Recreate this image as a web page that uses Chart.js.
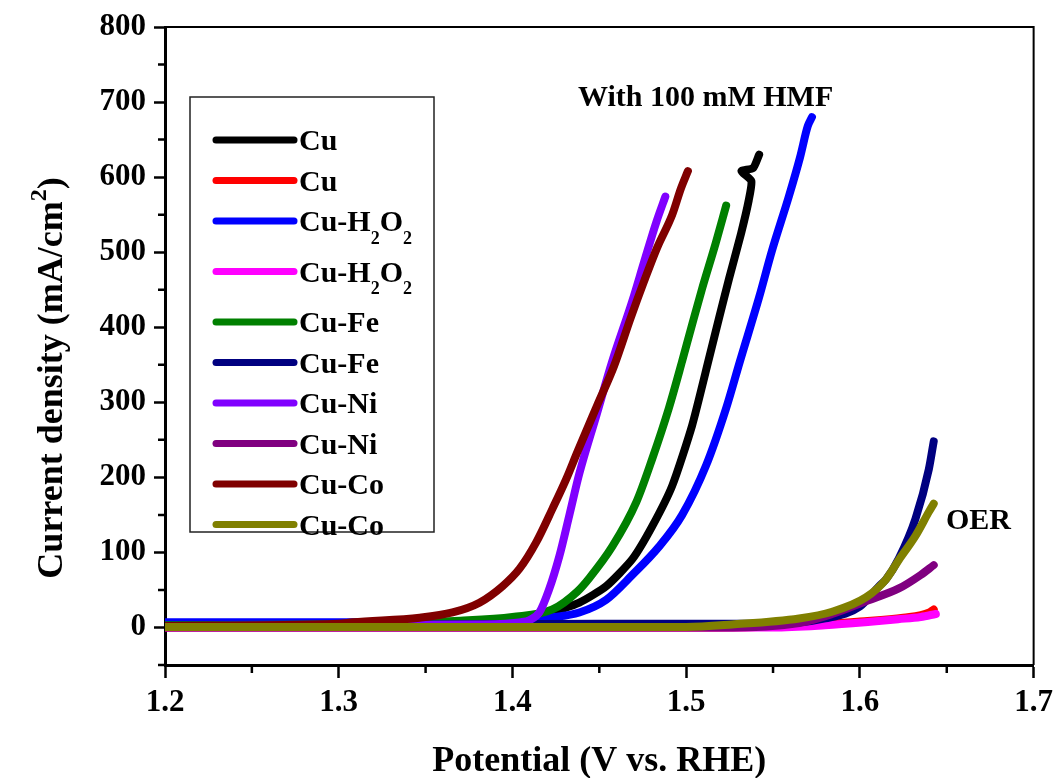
<!DOCTYPE html>
<html>
<head>
<meta charset="utf-8">
<script src="https://cdn.jsdelivr.net/npm/chart.js@4.4.0/dist/chart.umd.min.js"></script>
<style>
  html, body { margin: 0; padding: 0; background: #fff; }
  #wrap { width: 1059px; height: 778px; }
</style>
</head>
<body>
<div id="wrap"><canvas id="lsv"></canvas></div>
<script>
// series names and colours, in legend order
const seriesLabels = ['Cu', 'Cu', 'Cu-H2O2', 'Cu-H2O2', 'Cu-Fe', 'Cu-Fe', 'Cu-Ni', 'Cu-Ni', 'Cu-Co', 'Cu-Co'];
const seriesColors = ['#000000', '#ff0000', '#0000ff', '#ff00ff', '#008000', '#000080', '#8000ff', '#800080', '#800000', '#808000'];

// potential (V vs. RHE) / current density (mA/cm2) for each sweep
const cuHmfV  = [1.20, 1.30, 1.38, 1.41, 1.423, 1.4385, 1.454, 1.469, 1.4805, 1.492, 1.5034, 1.5132, 1.519, 1.5247, 1.5316, 1.536, 1.5375, 1.5318, 1.5385, 1.542];
const cuHmfJ  = [2, 3, 4, 8, 20, 33, 55, 91, 135, 189, 269, 359, 413, 465, 525, 569, 595, 608, 612, 630];
const cuV     = [1.20, 1.50, 1.56, 1.60, 1.625, 1.64, 1.6425];
const cuJ     = [0, 0, 2, 8, 13, 20, 24];
const cuH2o2HmfV = [1.20, 1.30, 1.40, 1.421, 1.4385, 1.454, 1.469, 1.4845, 1.4977, 1.5115, 1.523, 1.531, 1.542, 1.5494, 1.5592, 1.5655, 1.5700, 1.5724];
const cuH2o2HmfJ = [7, 7, 7, 13, 20, 37, 70, 108, 150, 216, 292, 355, 440, 502, 575, 626, 668, 680];
const cuH2o2V = [1.20, 1.55, 1.58, 1.603, 1.622, 1.635, 1.6437];
const cuH2o2J = [0, 0, 3, 7, 11, 14, 18];
const cuFeHmfV = [1.20, 1.30, 1.37, 1.40, 1.423, 1.4374, 1.4443, 1.4575, 1.4713, 1.4805, 1.490, 1.4977, 1.503, 1.509, 1.517, 1.523];
const cuFeHmfJ = [3, 4, 9, 14, 24, 48, 66, 108, 167, 225, 292, 355, 400, 450, 512, 562];
const cuFeV   = [1.20, 1.45, 1.55, 1.58, 1.60, 1.611, 1.615, 1.6224, 1.632, 1.6397, 1.6425];
const cuFeJ   = [2, 5, 5, 12, 28, 55, 64, 92, 145, 211, 248];
const cuNiHmfV = [1.20, 1.38, 1.405, 1.41, 1.4155, 1.421, 1.427, 1.4328, 1.4385, 1.448, 1.4575, 1.469, 1.4759, 1.4828, 1.488];
const cuNiHmfJ = [2, 4, 7, 10, 20, 50, 95, 150, 205, 280, 355, 435, 488, 540, 574];
const cuNiV   = [1.20, 1.52, 1.565, 1.584, 1.6034, 1.6224, 1.635, 1.6425];
const cuNiJ   = [0, 0, 6, 18, 35, 52, 70, 83];
const cuCoHmfV = [1.20, 1.30, 1.308, 1.3466, 1.3655, 1.381, 1.3943, 1.404, 1.4138, 1.423, 1.431, 1.4374, 1.4486, 1.4586, 1.468, 1.4759, 1.4833, 1.492, 1.497, 1.501];
const cuCoHmfJ = [2, 5, 7, 13, 20, 33, 55, 78, 114, 158, 198, 234, 295, 349, 412, 462, 506, 550, 585, 608];
const cuCoV   = [1.20, 1.50, 1.5264, 1.565, 1.584, 1.6034, 1.615, 1.6224, 1.632, 1.6397, 1.6425];
const cuCoJ   = [0.7, 0.7, 4, 12, 21, 40, 64, 90, 122, 154, 165];

// axis ticks
const xTickValues = [1.2, 1.3, 1.4, 1.5, 1.6, 1.7];
const xMinorTicks = [1.25, 1.35, 1.45, 1.55, 1.65];
const yTickValues = [0, 100, 200, 300, 400, 500, 600, 700, 800];
const yMinorTicks = [-50, 50, 150, 250, 350, 450, 550, 650, 750];

const seriesV = [cuHmfV, cuV, cuH2o2HmfV, cuH2o2V, cuFeHmfV, cuFeV, cuNiHmfV, cuNiV, cuCoHmfV, cuCoV];
const seriesJ = [cuHmfJ, cuJ, cuH2o2HmfJ, cuH2o2J, cuFeHmfJ, cuFeJ, cuNiHmfJ, cuNiJ, cuCoHmfJ, cuCoJ];

const FONT = '"Liberation Serif", "Times New Roman", serif';

const datasets = seriesLabels.map((label, i) => ({
  label: label,
  data: seriesV[i].map((v, k) => ({ x: v, y: seriesJ[i][k] })),
  borderColor: seriesColors[i],
  backgroundColor: seriesColors[i],
  borderWidth: 8,
  pointRadius: 0,
  // the Cu sweep folds back at its end, so it gets a plain bezier
  cubicInterpolationMode: i === 0 ? 'default' : 'monotone',
  tension: i === 0 ? 0.2 : 0.4,
  borderCapStyle: 'round',
  borderJoinStyle: 'round',
  fill: false,
  // later series sit on top
  order: seriesLabels.length - i
}));

// label text, digits drawn as subscripts (H2O2)
function drawRichText(ctx, text, x, y, size) {
  let cx = x;
  for (const ch of text) {
    if (/[0-9]/.test(ch)) {
      ctx.font = 'bold ' + Math.round(size * 0.6) + 'px ' + FONT;
      ctx.fillText(ch, cx, y + size * 0.42);
    } else {
      ctx.font = 'bold ' + size + 'px ' + FONT;
      ctx.fillText(ch, cx, y);
    }
    cx += ctx.measureText(ch).width;
  }
  return cx;
}

const decorPlugin = {
  id: 'decor',
  afterDraw(chart) {
    const ctx = chart.ctx;
    const area = chart.chartArea;
    const xs = chart.scales.x, ys = chart.scales.y;
    ctx.save();

    // box: top and right edges
    ctx.strokeStyle = '#000';
    ctx.lineWidth = 2;
    ctx.beginPath();
    ctx.moveTo(area.left, area.top);
    ctx.lineTo(area.right, area.top);
    ctx.lineTo(area.right, area.bottom);
    ctx.stroke();

    // minor ticks
    ctx.lineWidth = 2.5;
    ctx.beginPath();
    yMinorTicks.forEach(v => {
      const py = ys.getPixelForValue(v);
      ctx.moveTo(area.left - 7, py);
      ctx.lineTo(area.left, py);
    });
    xMinorTicks.forEach(v => {
      const px = xs.getPixelForValue(v);
      ctx.moveTo(px, area.bottom);
      ctx.lineTo(px, area.bottom + 8);
    });
    ctx.stroke();

    // y axis title with superscript
    ctx.fillStyle = '#000';
    ctx.textBaseline = 'alphabetic';
    ctx.translate(62, 378);
    ctx.rotate(-Math.PI / 2);
    const main = 'Current density (mA/cm';
    ctx.font = 'bold 36px ' + FONT;
    const wMain = ctx.measureText(main).width;
    const wClose = ctx.measureText(')').width;
    ctx.font = 'bold 24px ' + FONT;
    const wSup = ctx.measureText('2').width;
    let tx = -(wMain + wSup + wClose) / 2;
    ctx.font = 'bold 36px ' + FONT;
    ctx.fillText(main, tx, 0);
    tx += wMain;
    ctx.font = 'bold 24px ' + FONT;
    ctx.fillText('2', tx, -16);
    tx += wSup;
    ctx.font = 'bold 36px ' + FONT;
    ctx.fillText(')', tx, 0);
    ctx.restore();

    // annotations
    ctx.save();
    ctx.fillStyle = '#000';
    ctx.font = 'bold 30px ' + FONT;
    ctx.textAlign = 'left';
    ctx.fillText('With 100 mM HMF', 578, 106);
    ctx.fillText('OER', 946, 529);
    ctx.restore();

    // legend box
    ctx.save();
    ctx.strokeStyle = '#222';
    ctx.lineWidth = 1.5;
    ctx.strokeRect(190, 97, 244, 435);
    let extra = 0;
    seriesLabels.forEach((label, i) => {
      const hasSub = /[0-9]/.test(label);
      const ry = 140 + i * 40.5 + extra;
      ctx.strokeStyle = seriesColors[i];
      ctx.lineWidth = 7;
      ctx.lineCap = 'round';
      ctx.beginPath();
      ctx.moveTo(216, ry);
      ctx.lineTo(294, ry);
      ctx.stroke();
      ctx.fillStyle = '#000';
      ctx.textAlign = 'left';
      ctx.textBaseline = 'alphabetic';
      drawRichText(ctx, label, 299, ry + 10, 30);
      if (hasSub) extra += 10;
    });
    ctx.restore();
  }
};

const ctx = document.getElementById('lsv').getContext('2d');
new Chart(ctx, {
  type: 'line',
  data: { datasets: datasets },
  options: {
    responsive: true,
    maintainAspectRatio: false,
    animation: false,
    layout: { padding: { top: 27, right: 24, bottom: 0, left: 0 } },
    plugins: {
      legend: { display: false },
      tooltip: { enabled: false },
      title: { display: false }
    },
    scales: {
      x: {
        type: 'linear',
        min: 1.2,
        max: 1.7,
        afterBuildTicks: s => { s.ticks = xTickValues.map(v => ({ value: v })); },
        afterFit: s => { s.height = 113; },
        ticks: {
          color: '#000',
          font: { family: FONT, size: 31, weight: 'bold' },
          padding: 6,
          maxRotation: 0,
          callback: v => v.toFixed(1)
        },
        grid: { drawOnChartArea: false, drawTicks: true, tickLength: 13, tickWidth: 2.5, tickColor: '#000' },
        border: { color: '#000', width: 3 },
        title: {
          display: true,
          text: 'Potential (V vs. RHE)',
          color: '#000',
          font: { family: FONT, size: 36, weight: 'bold', lineHeight: 0.9 },
          padding: { top: 14, bottom: 0 }
        }
      },
      y: {
        min: -50,
        max: 800,
        afterBuildTicks: s => { s.ticks = yTickValues.map(v => ({ value: v })); },
        afterFit: s => { s.width = 165; },
        ticks: {
          color: '#000',
          font: { family: FONT, size: 31, weight: 'bold' },
          padding: 8
        },
        grid: { drawOnChartArea: false, drawTicks: true, tickLength: 11, tickWidth: 2.5, tickColor: '#000' },
        border: { color: '#000', width: 3 }
      }
    }
  },
  plugins: [decorPlugin]
});
</script>
</body>
</html>
